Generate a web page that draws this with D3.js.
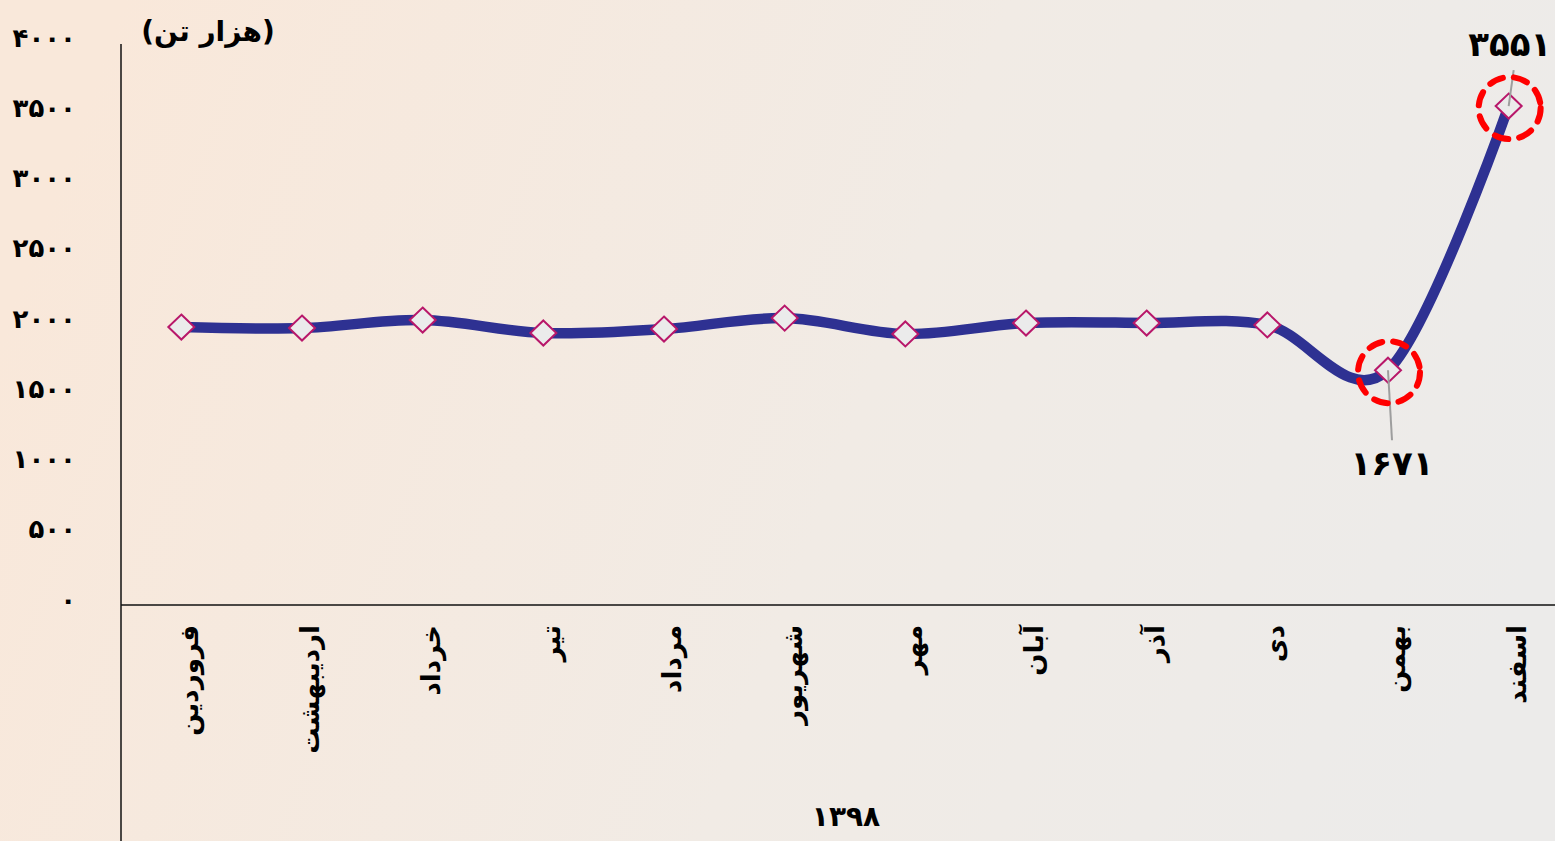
<!DOCTYPE html>
<html>
<head>
<meta charset="utf-8">
<script src="https://cdn.jsdelivr.net/npm/d3@7"></script>
<style>
  body { margin: 0; overflow: hidden; }
  svg { display: block; }
  text { font-family: "DejaVu Sans", sans-serif; font-weight: bold; fill: #000; }
</style>
</head>
<body>
<svg id="chart" width="1555" height="841"></svg>
<script>
// monthly values (thousand tonnes), year 1398
var months = ["فروردین", "اردیبهشت", "خرداد", "تیر", "مرداد", "شهریور", "مهر", "آبان", "آذر", "دی", "بهمن", "اسفند"];
var values = [1978, 1971, 2028, 1936, 1964, 2042, 1929, 2007, 2007, 1993, 1671, 3551];
var yTicks = [0, 500, 1000, 1500, 2000, 2500, 3000, 3500, 4000];
var highlighted = ["بهمن", "اسفند"];
var unitLabel = "(هزار تن)";
var yearLabel = "1398";

var width = 1555, height = 841;
var svg = d3.select("#chart");

// turn western digits into persian ones
function toPersian(n) {
    return String(n).replace(/[0-9]/g, function(c) { return "۰۱۲۳۴۵۶۷۸۹"[+c]; });
}

var data = months.map(function(m, i) { return { month: m, value: values[i] }; });

// background: peach on the left fading to light grey
var defs = svg.append("defs");
var grad = defs.append("linearGradient").attr("id", "bg")
    .attr("x1", "0%").attr("y1", "40%").attr("x2", "100%").attr("y2", "60%");
grad.append("stop").attr("offset", "0%").attr("stop-color", "#f9e8da");
grad.append("stop").attr("offset", "55%").attr("stop-color", "#f1ebe5");
grad.append("stop").attr("offset", "100%").attr("stop-color", "#ecebea");
svg.append("rect").attr("width", width).attr("height", height).attr("fill", "url(#bg)");

// scales
var x = d3.scalePoint().domain(months).range([121, 1569]).padding(0.5);
var y = d3.scaleLinear().domain([0, 4000]).range([605, 43]);

// y axis labels only (no ticks)
var yAxis = svg.append("g").attr("transform", "translate(121,0)")
    .call(d3.axisLeft(y).tickValues(yTicks).tickSize(0).tickPadding(45).tickFormat(toPersian));
yAxis.select(".domain").remove();
yAxis.selectAll("text")
    .style("font-family", "'DejaVu Sans', sans-serif")
    .style("font-weight", "bold")
    .style("font-size", "26px")
    .attr("dy", "0.12em");

// axis lines
svg.append("line").attr("x1", 121).attr("x2", 121).attr("y1", 44).attr("y2", height)
    .attr("stroke", "#111").attr("stroke-width", 1.5);
svg.append("line").attr("x1", 121).attr("x2", width).attr("y1", y(0)).attr("y2", y(0))
    .attr("stroke", "#111").attr("stroke-width", 1.5);

// month labels, rotated
svg.selectAll(".month")
    .data(months)
    .enter()
    .append("text")
    .attr("class", "month")
    .attr("transform", function(d) { return "translate(" + (x(d) + 8) + ",625) rotate(-90)"; })
    .attr("text-anchor", "end")
    .attr("dy", "0.35em")
    .style("font-size", "26px")
    .text(function(d) { return d; });

// year label under the months
svg.append("text")
    .attr("x", 846).attr("y", 826)
    .attr("text-anchor", "middle")
    .style("font-size", "28px")
    .text(toPersian(yearLabel));

// unit label
svg.append("text")
    .attr("x", 208).attr("y", 41)
    .attr("text-anchor", "middle")
    .style("font-size", "28px")
    .text(unitLabel);

// the smoothed line
var line = d3.line()
    .x(function(d) { return x(d.month); })
    .y(function(d) { return y(d.value); })
    .curve(d3.curveCardinal.tension(0));

svg.append("path")
    .datum(data)
    .attr("d", line)
    .attr("fill", "none")
    .attr("stroke", "#2e3192")
    .attr("stroke-width", 10.5)
    .attr("stroke-linecap", "round");

// diamond markers
svg.selectAll(".dot")
    .data(data)
    .enter()
    .append("path")
    .attr("class", "dot")
    .attr("d", "M0,-12.5 L13,0 L0,12.5 L-13,0 Z")
    .attr("transform", function(d) { return "translate(" + x(d.month) + "," + y(d.value) + ")"; })
    .attr("fill", "#ebebeb")
    .attr("stroke", "#b8176a")
    .attr("stroke-width", 2);

// annotations for the last two months
var hl = data.filter(function(d) { return highlighted.indexOf(d.month) >= 0; });
var labelPos = { "بهمن": { dx: 4, dy: 70, tx: 4, ty: 105 }, "اسفند": { dx: 5, dy: -36, tx: 1, ty: -50 } };

svg.selectAll(".leader")
    .data(hl)
    .enter()
    .append("line")
    .attr("class", "leader")
    .attr("x1", function(d) { return x(d.month); })
    .attr("y1", function(d) { return y(d.value); })
    .attr("x2", function(d) { return x(d.month) + labelPos[d.month].dx; })
    .attr("y2", function(d) { return y(d.value) + labelPos[d.month].dy; })
    .attr("stroke", "#9e9e9e")
    .attr("stroke-width", 2);

svg.selectAll(".ring")
    .data(hl)
    .enter()
    .append("circle")
    .attr("class", "ring")
    .attr("cx", function(d) { return x(d.month) + 1; })
    .attr("cy", function(d) { return y(d.value) + 2; })
    .attr("r", 31)
    .attr("fill", "none")
    .attr("stroke", "#ff0000")
    .attr("stroke-width", 6)
    .attr("stroke-dasharray", "14 11")
    .attr("stroke-linecap", "round");

svg.selectAll(".valueLabel")
    .data(hl)
    .enter()
    .append("text")
    .attr("class", "valueLabel")
    .attr("x", function(d) { return x(d.month) + labelPos[d.month].tx; })
    .attr("y", function(d) { return y(d.value) + labelPos[d.month].ty; })
    .attr("text-anchor", "middle")
    .style("font-size", "34px")
    .text(function(d) { return toPersian(d.value); });
</script>
</body>
</html>
